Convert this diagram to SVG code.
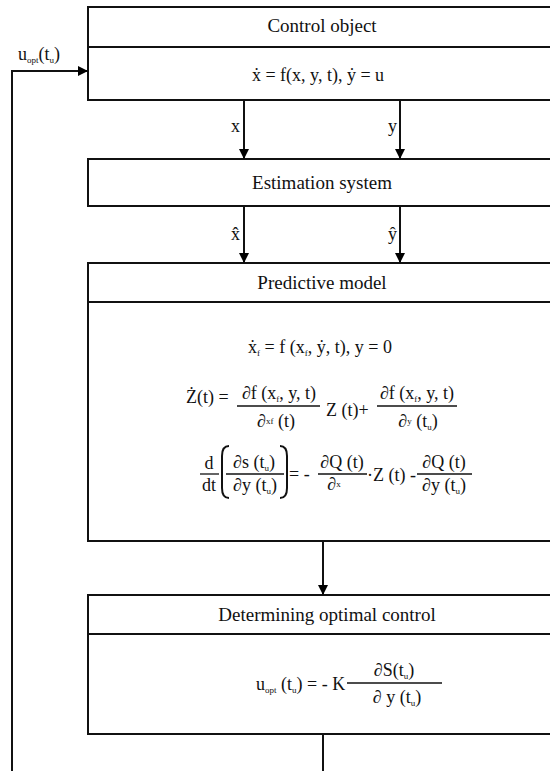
<svg xmlns="http://www.w3.org/2000/svg" width="550" height="771" viewBox="0 0 550 771">
<defs>
<marker id="ah" markerWidth="10" markerHeight="10" refX="10" refY="5" orient="auto" markerUnits="userSpaceOnUse">
<path d="M0,0 L10,5 L0,10 Z" fill="#000"/>
</marker>
<style>
.box{fill:#fff;stroke:#111;stroke-width:2}
.ln{stroke:#111;stroke-width:2;fill:none}
.t{font-family:'Liberation Serif','Tinos','DejaVu Serif','Noto Serif',serif;font-size:19px;fill:#111}
.e{font-family:'Liberation Serif','Tinos','DejaVu Serif','Noto Serif',serif;font-size:18px;fill:#111}
.s{font-size:9px}
.m{text-anchor:middle}
.bar{stroke:#111;stroke-width:1.3}
</style>
</defs>
<rect width="550" height="771" fill="#fff"/>

<g id="control-object">
<rect class="box" x="88" y="7" width="480" height="93"/>
<line class="ln" x1="88" y1="47" x2="568" y2="47"/>
<text class="t m" x="322" y="32">Control object</text>
<text class="e m" x="318" y="81">ẋ = f(x, y, t), ẏ = u</text>
</g>

<g id="estimation-system">
<rect class="box" x="88" y="159" width="480" height="47"/>
<text class="t m" x="322" y="189">Estimation system</text>
</g>

<g id="predictive-model">
<rect class="box" x="88" y="263" width="480" height="278"/>
<line class="ln" x1="88" y1="302" x2="568" y2="302"/>
<text class="t m" x="322" y="289">Predictive model</text>
<text class="e m" x="320" y="353">ẋ<tspan class="s" dy="3">f</tspan><tspan dy="-3"> = f (x</tspan><tspan class="s" dy="3">f</tspan><tspan dy="-3">, ẏ, t), y = 0</tspan></text>
<text class="e" x="186" y="403">Ż(t) =</text>
<text class="e m" x="279" y="399">∂f (x<tspan class="s" dy="3">f</tspan><tspan dy="-3">, y, t)</tspan></text>
<line class="bar" x1="237" y1="406" x2="320" y2="406"/>
<text class="e m" x="276" y="427">∂<tspan class="s" dy="-3">xf</tspan><tspan dy="3"> (t)</tspan></text>
<text class="e" x="326" y="416">Z (t)+</text>
<text class="e m" x="417" y="399">∂f (x<tspan class="s" dy="3">f</tspan><tspan dy="-3">, y, t)</tspan></text>
<line class="bar" x1="377" y1="406" x2="457" y2="406"/>
<text class="e m" x="418" y="427">∂<tspan class="s" dy="-3">y</tspan><tspan dy="3"> (t</tspan><tspan class="s" dy="3">u</tspan><tspan dy="-3">)</tspan></text>

<text class="e m" x="209" y="469">d</text>
<line class="bar" x1="200" y1="474" x2="219" y2="474"/>
<text class="e m" x="209" y="491">dt</text>
<path class="ln" stroke-width="1.6" d="M229,446 Q222,446 222,456 L222,488 Q222,498 229,498"/>
<path class="ln" stroke-width="1.6" d="M280,446 Q287,446 287,456 L287,488 Q287,498 280,498"/>
<text class="e m" x="254" y="468">∂s (t<tspan class="s" dy="3">u</tspan><tspan dy="-3">)</tspan></text>
<line class="bar" x1="226" y1="474" x2="284" y2="474"/>
<text class="e m" x="255" y="491">∂y (t<tspan class="s" dy="3">u</tspan><tspan dy="-3">)</tspan></text>
<text class="e" x="289" y="480">= -</text>
<text class="e m" x="342" y="468">∂Q (t)</text>
<line class="bar" x1="318" y1="474" x2="367" y2="474"/>
<text class="e m" x="334" y="490">∂<tspan class="s" dy="-3">x</tspan></text>
<text class="e" x="367" y="481">·Z (t) -</text>
<text class="e m" x="444" y="468">∂Q (t)</text>
<line class="bar" x1="417" y1="474" x2="472" y2="474"/>
<text class="e m" x="444" y="491">∂y (t<tspan class="s" dy="3">u</tspan><tspan dy="-3">)</tspan></text>
</g>

<g id="determining-optimal-control">
<rect class="box" x="88" y="595" width="480" height="139"/>
<line class="ln" x1="88" y1="634" x2="568" y2="634"/>
<text class="t m" x="327" y="621">Determining optimal control</text>
<text class="e" x="256" y="690">u<tspan class="s" dy="3">opt</tspan><tspan dy="-3"> (t</tspan><tspan class="s" dy="3">u</tspan><tspan dy="-3">) = - K</tspan></text>
<text class="e m" x="394" y="676">∂S(t<tspan class="s" dy="3">u</tspan><tspan dy="-3">)</tspan></text>
<line class="bar" x1="347" y1="683" x2="442" y2="683"/>
<text class="e m" x="397" y="703">∂ y (t<tspan class="s" dy="3">u</tspan><tspan dy="-3">)</tspan></text>
</g>

<g id="connectors">
<line class="ln" x1="244" y1="100" x2="244" y2="159" marker-end="url(#ah)"/>
<line class="ln" x1="400" y1="100" x2="400" y2="159" marker-end="url(#ah)"/>
<line class="ln" x1="244" y1="206" x2="244" y2="263" marker-end="url(#ah)"/>
<line class="ln" x1="400" y1="206" x2="400" y2="263" marker-end="url(#ah)"/>
<line class="ln" x1="323" y1="541" x2="323" y2="595" marker-end="url(#ah)"/>
<line class="ln" x1="323" y1="734" x2="323" y2="771"/>
<polyline class="ln" points="12,771 12,71 88,71" marker-end="url(#ah)"/>
<text class="e" x="231" y="132">x</text>
<text class="e" x="388" y="132">y</text>
<text class="e" x="231" y="240">x̂</text>
<text class="e" x="388" y="240">ŷ</text>
<text class="e" x="18" y="60">u<tspan class="s" dy="3">opt</tspan><tspan dy="-3">(t</tspan><tspan class="s" dy="3">u</tspan><tspan dy="-3">)</tspan></text>
</g>
</svg>
